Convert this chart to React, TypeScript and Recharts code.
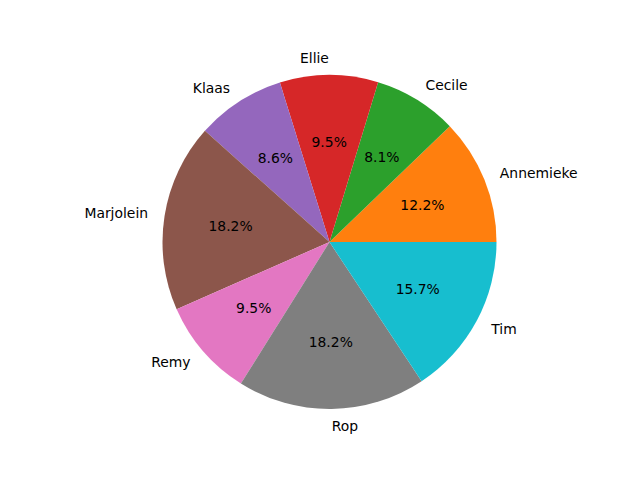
import React from 'react'
import { PieChart, Pie, Cell } from 'recharts'

const names = ['Annemieke', 'Cecile', 'Ellie', 'Klaas', 'Marjolein', 'Remy', 'Rop', 'Tim']
const shares = [12.2, 8.1, 9.5, 8.6, 18.2, 9.5, 18.2, 15.7]
const COLORS = ['#ff7f0e', '#2ca02c', '#d62728', '#9467bd', '#8c564b', '#e377c2', '#7f7f7f', '#17becf']

const data = names.map((name, i) => ({ name, value: shares[i] }))

const RADIAN = Math.PI / 180
const FONT = '"DejaVu Sans", sans-serif'

// matplotlib-style labels: name at 1.1R, percent at 0.6R
const renderLabel = (props: any) => {
  const { cx, cy, midAngle, outerRadius, percent, name } = props
  const cos = Math.cos(-midAngle * RADIAN)
  const sin = Math.sin(-midAngle * RADIAN)
  const nx = cx + outerRadius * 1.1 * cos
  const ny = cy + outerRadius * 1.1 * sin
  const px = cx + outerRadius * 0.6 * cos
  const py = cy + outerRadius * 0.6 * sin
  return (
    <g>
      <text x={nx} y={ny} textAnchor={cos >= 0 ? 'start' : 'end'} dominantBaseline="central"
        fill="#000" fontSize={13.9} fontFamily={FONT}>{name}</text>
      <text x={px} y={py} textAnchor="middle" dominantBaseline="central"
        fill="#000" fontSize={13.9} fontFamily={FONT}>{(percent * 100).toFixed(1)}%</text>
    </g>
  )
}

export default function App() {
  return (
    <div style={{ position: 'absolute', left: 0, top: 0, width: 640, height: 480, background: '#fff' }}>
      <PieChart width={640} height={480} margin={{ top: 0, right: 0, bottom: 0, left: 0 }}>
        <Pie
          data={data}
          dataKey="value"
          nameKey="name"
          cx={329.5}
          cy={242}
          innerRadius={0}
          outerRadius={167}
          startAngle={0}
          endAngle={360}
          stroke="none"
          labelLine={false}
          label={renderLabel}
          isAnimationActive={false}
        >
          {data.map((entry, i) => (
            <Cell key={`cell-${i}`} fill={COLORS[i]} stroke="none" />
          ))}
        </Pie>
      </PieChart>
    </div>
  )
}
